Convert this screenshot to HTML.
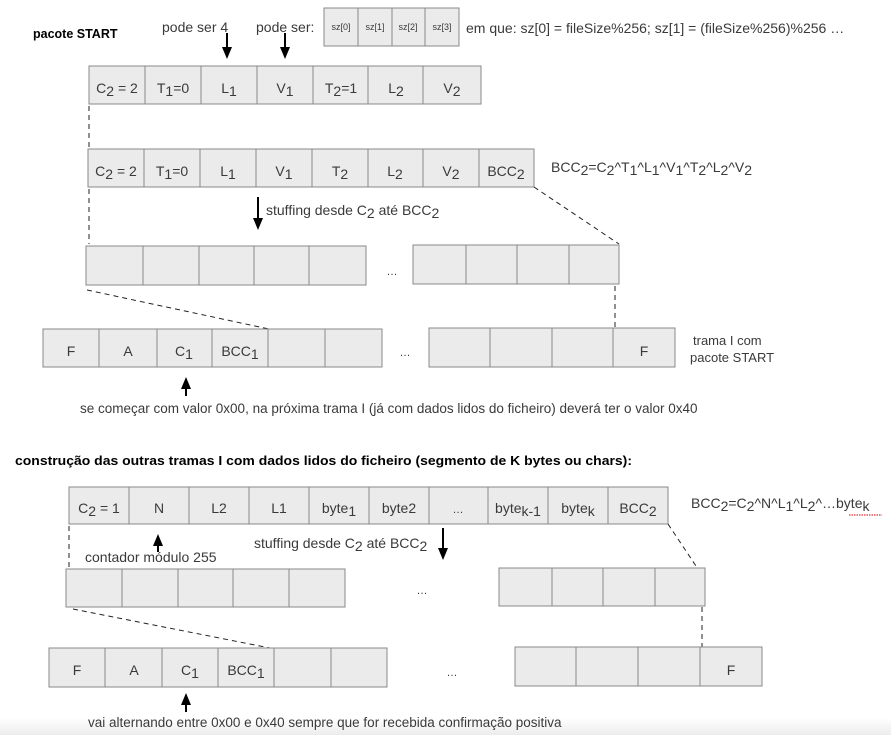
<!DOCTYPE html>
<html><head><meta charset="utf-8"><style>
html,body{margin:0;padding:0;background:#fff;}
svg{display:block;}
text{font-family:"Liberation Sans",Arial,sans-serif;fill:#3a3a3a;font-size:14px;}
.c{text-anchor:middle;}
.b{font-weight:bold;fill:#000;font-size:12.5px;}
.s{font-size:9px;}
rect.cell{fill:#ebebeb;stroke:#888;stroke-width:1;}
line.d{stroke:#222;stroke-width:1;stroke-dasharray:5,4;}
line.a{stroke:#000;stroke-width:2;}
</style></head><body>
<svg width="891" height="735" viewBox="0 0 891 735" xmlns="http://www.w3.org/2000/svg">
<defs>
<marker id="ah" markerWidth="12" markerHeight="10" refX="4" refY="5" orient="auto" markerUnits="userSpaceOnUse"><path d="M0,0 L12,5 L0,10 z" fill="#000"/></marker>
<linearGradient id="bg" x1="0" y1="0" x2="0" y2="1"><stop offset="0" stop-color="#fff"/><stop offset="1" stop-color="#ececec"/></linearGradient>
</defs>
<rect x="0" y="718" width="891" height="17" fill="url(#bg)"/>

<text class="b" x="33" y="38">pacote START</text>
<text x="162" y="32">pode ser 4</text>
<text x="256" y="32">pode ser:</text>
<line class="a" x1="227" y1="33" x2="227" y2="51" marker-end="url(#ah)"/>
<line class="a" x1="285" y1="33" x2="285" y2="51" marker-end="url(#ah)"/>
<g>
<rect class="cell" x="324" y="8" width="34" height="38"/><rect class="cell" x="358" y="8" width="34" height="38"/><rect class="cell" x="392" y="8" width="33" height="38"/><rect class="cell" x="425" y="8" width="34" height="38"/>
<text class="c s" x="341" y="30">sz[0]</text><text class="c s" x="375" y="30">sz[1]</text><text class="c s" x="408" y="30">sz[2]</text><text class="c s" x="442" y="30">sz[3]</text>
</g>
<text x="466" y="33">em que: sz[0] = fileSize%256; sz[1] = (fileSize%256)%256 …</text>

<!-- row1 -->
<rect class="cell" x="89" y="66" width="56" height="38"/><rect class="cell" x="145" y="66" width="56" height="38"/><rect class="cell" x="201" y="66" width="56" height="38"/><rect class="cell" x="257" y="66" width="56" height="38"/><rect class="cell" x="313" y="66" width="55" height="38"/><rect class="cell" x="368" y="66" width="55" height="38"/><rect class="cell" x="423" y="66" width="58" height="38"/>
<text class="c" x="117" y="93">C<tspan dy="3">2</tspan><tspan dy="-3"> = 2</tspan></text>
<text class="c" x="173" y="93">T<tspan dy="3">1</tspan><tspan dy="-3">=0</tspan></text>
<text class="c" x="229" y="93">L<tspan dy="3">1</tspan></text>
<text class="c" x="285" y="93">V<tspan dy="3">1</tspan></text>
<text class="c" x="341" y="93">T<tspan dy="3">2</tspan><tspan dy="-3">=1</tspan></text>
<text class="c" x="396" y="93">L<tspan dy="3">2</tspan></text>
<text class="c" x="452" y="93">V<tspan dy="3">2</tspan></text>
<line class="d" x1="89" y1="106" x2="89" y2="149"/>

<!-- row2 -->
<rect class="cell" x="88" y="149" width="56" height="38"/><rect class="cell" x="144" y="149" width="56" height="38"/><rect class="cell" x="200" y="149" width="56" height="38"/><rect class="cell" x="256" y="149" width="56" height="38"/><rect class="cell" x="312" y="149" width="56" height="38"/><rect class="cell" x="368" y="149" width="55" height="38"/><rect class="cell" x="423" y="149" width="56" height="38"/><rect class="cell" x="479" y="149" width="55" height="38"/>
<text class="c" x="116" y="176">C<tspan dy="3">2</tspan><tspan dy="-3"> = 2</tspan></text>
<text class="c" x="172" y="176">T<tspan dy="3">1</tspan><tspan dy="-3">=0</tspan></text>
<text class="c" x="228" y="176">L<tspan dy="3">1</tspan></text>
<text class="c" x="284" y="176">V<tspan dy="3">1</tspan></text>
<text class="c" x="340" y="176">T<tspan dy="3">2</tspan></text>
<text class="c" x="395" y="176">L<tspan dy="3">2</tspan></text>
<text class="c" x="451" y="176">V<tspan dy="3">2</tspan></text>
<text class="c" x="506" y="176">BCC<tspan dy="3">2</tspan></text>
<text x="551" y="172">BCC<tspan dy="3">2</tspan><tspan dy="-3">=C</tspan><tspan dy="3">2</tspan><tspan dy="-3">^T</tspan><tspan dy="3">1</tspan><tspan dy="-3">^L</tspan><tspan dy="3">1</tspan><tspan dy="-3">^V</tspan><tspan dy="3">1</tspan><tspan dy="-3">^T</tspan><tspan dy="3">2</tspan><tspan dy="-3">^L</tspan><tspan dy="3">2</tspan><tspan dy="-3">^V</tspan><tspan dy="3">2</tspan></text>
<line class="a" x1="258" y1="197" x2="258" y2="222" marker-end="url(#ah)"/>
<text x="266" y="215">stuffing desde C<tspan dy="3">2</tspan><tspan dy="-3"> até BCC</tspan><tspan dy="3">2</tspan></text>
<line class="d" x1="89" y1="189" x2="89" y2="244"/>
<line class="d" x1="534" y1="187" x2="619" y2="244"/>

<!-- row3 -->
<rect class="cell" x="86" y="246" width="57" height="39"/><rect class="cell" x="143" y="246" width="56" height="39"/><rect class="cell" x="199" y="246" width="55" height="39"/><rect class="cell" x="254" y="246" width="55" height="39"/><rect class="cell" x="309" y="246" width="57" height="39"/>
<text class="c" x="392" y="275" style="font-size:11px">…</text>
<rect class="cell" x="413" y="245" width="53" height="39"/><rect class="cell" x="466" y="245" width="51" height="39"/><rect class="cell" x="517" y="245" width="52" height="39"/><rect class="cell" x="569" y="245" width="50" height="39"/>
<line class="d" x1="87" y1="290" x2="269" y2="329"/>
<line class="d" x1="615" y1="286" x2="615" y2="328"/>

<!-- row4 -->
<rect class="cell" x="43" y="329" width="56" height="38"/><rect class="cell" x="99" y="329" width="58" height="38"/><rect class="cell" x="157" y="329" width="55" height="38"/><rect class="cell" x="212" y="329" width="56" height="38"/><rect class="cell" x="268" y="329" width="57" height="38"/><rect class="cell" x="325" y="329" width="57" height="38"/>
<text class="c" x="71" y="356">F</text><text class="c" x="128" y="356">A</text>
<text class="c" x="184" y="356">C<tspan dy="3">1</tspan></text>
<text class="c" x="240" y="356">BCC<tspan dy="3">1</tspan></text>
<text class="c" x="405" y="356" style="font-size:11px">…</text>
<rect class="cell" x="429" y="328" width="61" height="39"/><rect class="cell" x="490" y="328" width="62" height="39"/><rect class="cell" x="552" y="328" width="61" height="39"/><rect class="cell" x="613" y="328" width="62" height="39"/>
<text class="c" x="644" y="356">F</text>
<text x="693" y="345" style="font-size:13px">trama I com</text>
<text x="690" y="362" style="font-size:13px">pacote START</text>
<line class="a" x1="186" y1="396" x2="186" y2="385" marker-end="url(#ah)"/>
<text x="80" y="413" style="font-size:13.5px">se começar com valor 0x00, na próxima trama I (já com dados lidos do ficheiro)  deverá ter o valor 0x40</text>

<!-- bottom section -->
<text class="b" x="15" y="465" textLength="617" lengthAdjust="spacingAndGlyphs">construção das outras tramas I com dados lidos do ficheiro (segmento de K bytes ou chars):</text>

<rect class="cell" x="69" y="487" width="60" height="37"/><rect class="cell" x="129" y="487" width="60" height="37"/><rect class="cell" x="189" y="487" width="60" height="37"/><rect class="cell" x="249" y="487" width="60" height="37"/><rect class="cell" x="309" y="487" width="60" height="37"/><rect class="cell" x="369" y="487" width="60" height="37"/><rect class="cell" x="429" y="487" width="59" height="37"/><rect class="cell" x="488" y="487" width="60" height="37"/><rect class="cell" x="548" y="487" width="60" height="37"/><rect class="cell" x="608" y="487" width="60" height="37"/>
<text class="c" x="99" y="513">C<tspan dy="3">2</tspan><tspan dy="-3"> = 1</tspan></text>
<text class="c" x="159" y="513">N</text>
<text class="c" x="219" y="513">L2</text>
<text class="c" x="279" y="513">L1</text>
<text class="c" x="339" y="513">byte<tspan dy="3">1</tspan></text>
<text class="c" x="399" y="513">byte2</text>
<text class="c" x="458" y="513" style="font-size:11px">…</text>
<text class="c" x="518" y="513">byte<tspan dy="3">k-1</tspan></text>
<text class="c" x="578" y="513">byte<tspan dy="3">k</tspan></text>
<text class="c" x="638" y="513">BCC<tspan dy="3">2</tspan></text>
<text x="691" y="508">BCC<tspan dy="3">2</tspan><tspan dy="-3">=C</tspan><tspan dy="3">2</tspan><tspan dy="-3">^N^L</tspan><tspan dy="3">1</tspan><tspan dy="-3">^L</tspan><tspan dy="3">2</tspan><tspan dy="-3">^…byte</tspan><tspan dy="3">k</tspan></text>
<line x1="849" y1="515" x2="882" y2="515" stroke="#d33" stroke-width="1.2" stroke-dasharray="1.5,1"/>
<line class="a" x1="158" y1="552" x2="158" y2="542" marker-end="url(#ah)"/>
<text x="85" y="562">contador módulo 255</text>
<text x="254" y="548">stuffing desde C<tspan dy="3">2</tspan><tspan dy="-3"> até BCC</tspan><tspan dy="3">2</tspan></text>
<line class="a" x1="443" y1="528" x2="443" y2="552" marker-end="url(#ah)"/>
<line class="d" x1="69" y1="526" x2="69" y2="567"/>
<line class="d" x1="668" y1="524" x2="698" y2="569"/>

<rect class="cell" x="66" y="569" width="56" height="38"/><rect class="cell" x="122" y="569" width="56" height="38"/><rect class="cell" x="178" y="569" width="55" height="38"/><rect class="cell" x="233" y="569" width="56" height="38"/><rect class="cell" x="289" y="569" width="56" height="38"/>
<text class="c" x="422" y="594" style="font-size:11px">…</text>
<rect class="cell" x="499" y="568" width="53" height="38"/><rect class="cell" x="552" y="568" width="51" height="38"/><rect class="cell" x="603" y="568" width="52" height="38"/><rect class="cell" x="655" y="568" width="50" height="38"/>
<line class="d" x1="73" y1="609" x2="270" y2="648"/>
<line class="d" x1="702" y1="607" x2="702" y2="648"/>

<rect class="cell" x="49" y="648" width="56" height="39"/><rect class="cell" x="105" y="648" width="57" height="39"/><rect class="cell" x="162" y="648" width="56" height="39"/><rect class="cell" x="218" y="648" width="56" height="39"/><rect class="cell" x="274" y="648" width="57" height="39"/><rect class="cell" x="331" y="648" width="56" height="39"/>
<text class="c" x="77" y="675">F</text><text class="c" x="134" y="675">A</text>
<text class="c" x="190" y="675">C<tspan dy="3">1</tspan></text>
<text class="c" x="246" y="675">BCC<tspan dy="3">1</tspan></text>
<text class="c" x="452" y="676" style="font-size:11px">…</text>
<rect class="cell" x="515" y="647" width="61" height="39"/><rect class="cell" x="576" y="647" width="62" height="39"/><rect class="cell" x="638" y="647" width="62" height="39"/><rect class="cell" x="700" y="647" width="62" height="39"/>
<text class="c" x="731" y="675">F</text>
<line class="a" x1="186" y1="712" x2="186" y2="701" marker-end="url(#ah)"/>
<text x="88" y="727" style="font-size:13.5px">vai alternando entre 0x00 e 0x40 sempre que for recebida confirmação positiva</text>
</svg>
</body></html>
